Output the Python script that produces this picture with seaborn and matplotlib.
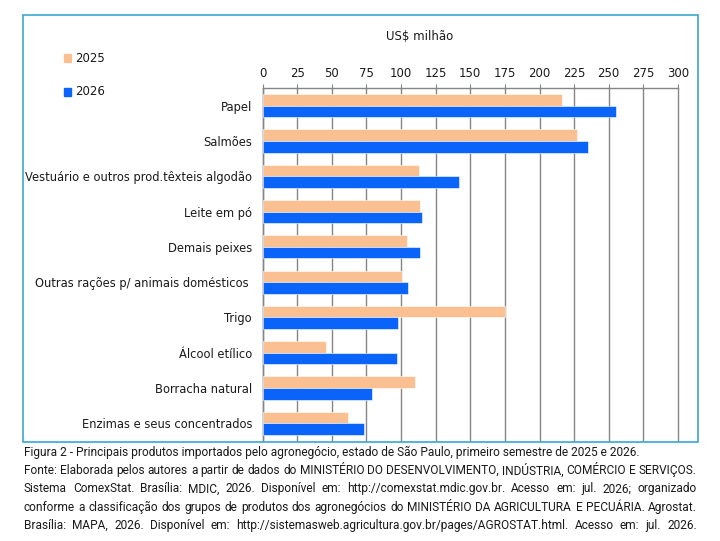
import matplotlib
matplotlib.use("Agg")
import matplotlib.pyplot as plt
import matplotlib.patches as mpatches
import pandas as pd
import seaborn as sns

## dados (US$ milhão):
produtos = ["Papel", "Salmões", "Vestuário e outros prod.têxteis algodão", "Leite em pó",
            "Demais peixes", "Outras rações p/ animais domésticos ", "Trigo", "Álcool etílico",
            "Borracha natural", "Enzimas e seus concentrados"]
valores_2025 = [216, 227, 113, 114, 104, 101, 175, 46, 110, 62]
valores_2026 = [255, 235, 142, 115, 114, 105, 98, 97, 79, 73]
anos = ["2025", "2026"]
ticks_x = [0, 25, 50, 75, 100, 125, 150, 175, 200, 225, 250, 275, 300]

cor_2025 = "#FBC092"
cor_2026 = "#0A64FA"
cor_grade = "#858585"
cor_texto = "#1a1a1a"

linhas_legenda = [
    "Figura 2 - Principais produtos importados pelo agronegócio, estado de São Paulo, primeiro semestre de 2025 e 2026.",
    "Fonte: Elaborada pelos autores a partir de dados do MINISTÉRIO DO DESENVOLVIMENTO, INDÚSTRIA, COMÉRCIO E SERVIÇOS.",
    "Sistema ComexStat. Brasília: MDIC, 2026. Disponível em: http://comexstat.mdic.gov.br. Acesso em: jul. 2026; organizado",
    "conforme a classificação dos grupos de produtos dos agronegócios do MINISTÉRIO DA AGRICULTURA E PECUÁRIA. Agrostat.",
    "Brasília: MAPA, 2026. Disponível em: http://sistemasweb.agricultura.gov.br/pages/AGROSTAT.html. Acesso em: jul. 2026.",
]

df = pd.DataFrame({"produto": produtos * 2,
                   "ano": [anos[0]] * len(produtos) + [anos[1]] * len(produtos),
                   "valor": valores_2025 + valores_2026})

sns.set_style("white")
plt.rcParams["font.family"] = ["DejaVu Sans"]
fonte_legenda = ["Liberation Sans Narrow", "Roboto", "DejaVu Sans"]

fig = plt.figure(figsize=(7.2, 5.41), dpi=100)
W, H = 720, 541

#caixa externa do gráfico:
fig.patches.append(mpatches.Rectangle((23 / W, 1 - 442 / H), (698 - 23) / W, (442 - 15) / H,
                                      transform=fig.transFigure, fill=False,
                                      edgecolor="#3AA8D0", linewidth=1.2))

ax = fig.add_axes([262.5 / W, 1 - 441 / H, (678 - 262.5) / W, (441 - 88) / H])
sns.barplot(data=df, x="valor", y="produto", hue="ano", order=produtos, hue_order=anos,
            palette=[cor_2025, cor_2026], orient="h", width=0.66, saturation=1,
            edgecolor="white", linewidth=0.4, legend=False, ax=ax, zorder=3)

ax.set_xlim(0, 300)
ax.set_xticks(ticks_x)
ax.xaxis.tick_top()
ax.tick_params(axis="x", which="major", direction="out", length=3, color=cor_grade,
               labelsize=8.5, labelcolor=cor_texto, pad=3)
ax.grid(axis="x", color=cor_grade, linewidth=1, zorder=0)
ax.set_axisbelow(True)
for gl in ax.get_xgridlines():
    gl.set_clip_on(False)

#marcas entre categorias no eixo y:
ax.set_yticks([i + 0.5 for i in range(-1, len(produtos))], minor=True)
ax.tick_params(axis="y", which="minor", direction="out", length=4, color=cor_grade, width=1)
ax.tick_params(axis="y", which="major", length=0, labelsize=8.3, labelcolor=cor_texto, pad=7.5)
ax.set_ylim(len(produtos) - 0.5, -0.5)

for lado in ["right", "bottom"]:
    ax.spines[lado].set_visible(False)
for lado in ["top", "left"]:
    ax.spines[lado].set_color(cor_grade)
    ax.spines[lado].set_linewidth(1)
ax.set_xlabel("")
ax.set_ylabel("")

fig.text(420 / W, 1 - 37 / H, "US$ milhão", ha="center", va="center", fontsize=8.5, color=cor_texto)

#legenda manual:
for i, (ano, cor) in enumerate(zip(anos, [cor_2025, cor_2026])):
    yy = 58 + 34 * i
    fig.patches.append(mpatches.Rectangle((64 / W, 1 - (yy + 3.5) / H), 7 / W, 7 / H,
                                          transform=fig.transFigure, color=cor))
    fig.text(75 / W, 1 - yy / H, ano, ha="left", va="center", fontsize=8.5, color=cor_texto)

#legenda da figura: tamanho para caber nas linhas, linhas 2-5 justificadas
renderer = fig.canvas.get_renderer()
x0, x1 = 24, 697
t1 = fig.text(0, 0, linhas_legenda[0], fontsize=10, family=fonte_legenda)
t2 = fig.text(0, 0, linhas_legenda[1], fontsize=10, family=fonte_legenda)
tam = min(10 * (668 - x0) / t1.get_window_extent(renderer).width,
          10 * (x1 - 2 - x0) / t2.get_window_extent(renderer).width)
t1.remove()
t2.remove()
for n, linha in enumerate(linhas_legenda):
    yy = 1 - (452 + 18.4 * n) / H
    if n == 0:
        fig.text(x0 / W, yy, linha, ha="left", va="center", fontsize=tam,
                 family=fonte_legenda, color=cor_texto)
        continue
    palavras = linha.split(" ")
    objs = [fig.text(0, yy, p, ha="left", va="center", fontsize=tam,
                     family=fonte_legenda, color=cor_texto) for p in palavras]
    larguras = [o.get_window_extent(renderer).width for o in objs]
    espaco = (x1 - x0 - sum(larguras)) / (len(palavras) - 1)
    xx = x0
    for o, w in zip(objs, larguras):
        o.set_x(xx / W)
        xx += w + espaco

fig.savefig("out.png", dpi=100)
